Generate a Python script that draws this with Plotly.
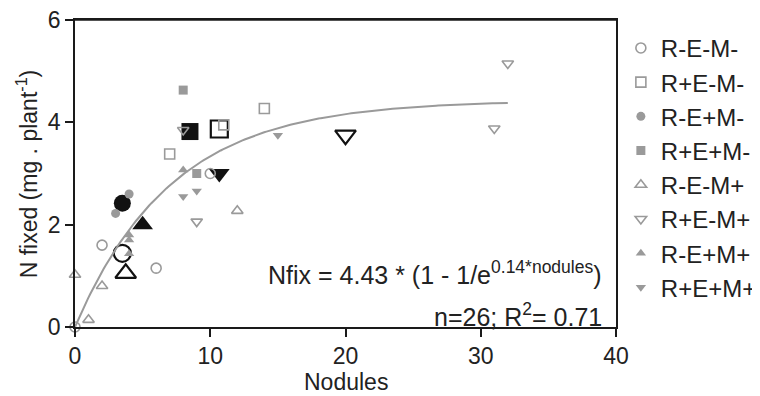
import numpy as np
import plotly.graph_objects as go

# ---- data ----
groups = ["R-E-M-", "R+E-M-", "R-E+M-", "R+E+M-", "R-E-M+", "R+E-M+", "R-E+M+", "R+E+M+"]
symbols = ["circle-open", "square-open", "circle", "square",
           "triangle-up-open", "triangle-down-open", "triangle-up", "triangle-down"]

rem_m_x = [0, 2, 6, 10];        rem_m_y = [0, 1.6, 1.15, 3.0]
rpem_m_x = [7, 11, 14];         rpem_m_y = [3.38, 3.95, 4.27]
repm_m_x = [3, 4];              repm_m_y = [2.22, 2.6]
rpepm_m_x = [8, 9];             rpepm_m_y = [4.63, 3.0]
rem_p_x = [0, 1, 2, 12];        rem_p_y = [1.02, 0.14, 0.8, 2.27]
rpem_p_x = [8, 9, 31, 32];      rpem_p_y = [3.85, 2.06, 3.88, 5.15]
repm_p_x = [4, 4, 4, 8];        repm_p_y = [1.8, 1.7, 1.43, 3.07]
rpepm_p_x = [8, 9, 15];         rpepm_p_y = [2.55, 2.66, 3.75]

group_x = [rem_m_x, rpem_m_x, repm_m_x, rpepm_m_x, rem_p_x, rpem_p_x, repm_p_x, rpepm_p_x]
group_y = [rem_m_y, rpem_m_y, repm_m_y, rpepm_m_y, rem_p_y, rpem_p_y, repm_p_y, rpepm_p_y]

# treatment means (large black markers)
mean_x = [3.5, 10.67, 3.5, 8.5, 3.75, 20.0, 5.0, 10.67]
mean_y = [1.44, 3.87, 2.42, 3.82, 1.05, 3.75, 2.0, 3.0]

# fitted curve: Nfix = a * (1 - 1/e^(k*nodules))
fit_a = 4.43
fit_k = 0.14
fit_xmax = 32

GRAY = "#9a9a9a"
BLACK = "#111111"
AXC = "#1a1a1a"
FONT = "Liberation Sans, Arial, sans-serif"
TXT = "#222"

fig = go.Figure()

# means first
for sym, mx, my in zip(symbols, mean_x, mean_y):
    is_open = sym.endswith("open")
    fig.add_trace(go.Scatter(
        x=[mx], y=[my], mode="markers", showlegend=False, cliponaxis=False,
        marker=dict(symbol=sym, size=17 if "circle" in sym or "square" in sym else 18,
                    color=BLACK, line=dict(color=BLACK, width=2.2 if is_open else 0)),
        hoverinfo="skip"))

# fitted curve
xf = np.linspace(0, fit_xmax, 200)
fig.add_trace(go.Scatter(x=xf, y=fit_a * (1 - np.exp(-fit_k * xf)), mode="lines",
                         line=dict(color=GRAY, width=2), showlegend=False, hoverinfo="skip",
                         cliponaxis=False))

# individual data
for name, sym, gx, gy in zip(groups, symbols, group_x, group_y):
    is_open = sym.endswith("open")
    fig.add_trace(go.Scatter(
        x=gx, y=gy, mode="markers", name=name, cliponaxis=False,
        marker=dict(symbol=sym, size=10 if is_open else 9, color=GRAY,
                    line=dict(color=GRAY, width=1.6 if is_open else 0))))

axis_common = dict(showline=True, linecolor=AXC, linewidth=1.5, mirror=True,
                   ticks="outside", ticklen=8, tickwidth=1.5, tickcolor=AXC,
                   showgrid=False, zeroline=False, ticklabeloverflow="allow",
                   tickfont=dict(family=FONT, size=23, color=TXT))

# the page body adds an 8px margin, so the figure is 8px smaller than the window
fig.update_layout(
    width=752, height=388,
    margin=dict(l=67, r=144, t=12, b=69, autoexpand=False),
    paper_bgcolor="white", plot_bgcolor="white",
    font=dict(family=FONT, size=23, color=TXT),
    xaxis=dict(range=[0, 40], tickvals=[0, 10, 20, 30, 40], **axis_common),
    yaxis=dict(range=[0, 6], tickvals=[0, 2, 4, 6], **axis_common),
    legend=dict(x=1.009, y=0.981, xanchor="left", yanchor="top",
                font=dict(family=FONT, size=24, color=TXT),
                bgcolor="rgba(0,0,0,0)", borderwidth=0, tracegroupgap=0,
                itemsizing="trace"),
    shapes=[dict(type="line", xref="paper", yref="paper", x0=-0.016, x1=1, y0=1, y1=1,
                 line=dict(color=AXC, width=1.5), layer="above")],
    annotations=[
        # axis titles
        dict(xref="paper", yref="paper", x=0.5, y=-0.18, xanchor="center", yanchor="middle",
             text="Nodules", showarrow=False, font=dict(family=FONT, size=23, color=TXT)),
        dict(xref="paper", yref="paper", x=-0.089, y=0.5, xanchor="center", yanchor="middle",
             textangle=-90, text="N fixed (mg . plant<sup>-1</sup>)", showarrow=False,
             font=dict(family=FONT, size=23, color=TXT)),
        # fit equation
        dict(xref="paper", yref="paper", x=0.977, y=0.176, xanchor="right", yanchor="middle",
             text="Nfix = 4.43 * (1 - 1/e<sup>0.14*nodules</sup>)", showarrow=False,
             font=dict(family=FONT, size=25, color=TXT)),
        dict(xref="paper", yref="paper", x=0.977, y=0.039, xanchor="right", yanchor="middle",
             text="n=26; R<sup>2</sup>= 0.71", showarrow=False,
             font=dict(family=FONT, size=25, color=TXT)),
    ],
)

fig.write_html("out.html")
